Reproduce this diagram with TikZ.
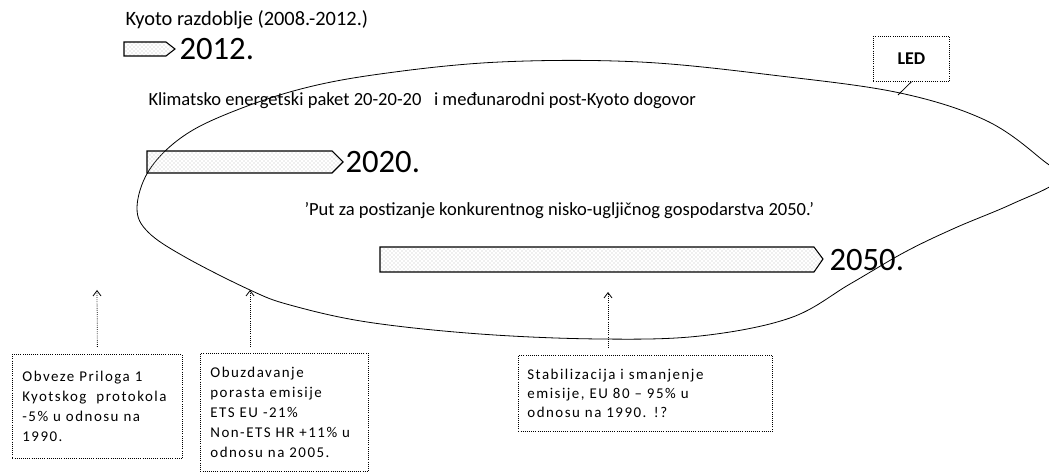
\documentclass[tikz,border=0pt]{standalone}
\usepackage{fontspec}
\setmainfont{Carlito}
\newfontfamily\boxfont[LetterSpace=10]{Carlito}
\usetikzlibrary{patterns,positioning,arrows.meta}

\tikzset{every picture/.style={line width=0.75pt}}
\tikzset{
	headtext/.style={anchor=west, inner sep=0.75pt, font=\fontsize{13.9}{16}\selectfont},
	yeartext/.style={anchor=west, inner sep=0.75pt, font=\fontsize{24.5}{26}\selectfont},
	notebox/.style={draw, densely dotted, line width=0.6pt, anchor=north west, align=left, inner xsep=7.5pt, inner ysep=3pt, font=\boxfont\fontsize{11.2}{15}\selectfont},
	barfill/.style={draw, line width=0.8pt, pattern=crosshatch dots, pattern color=gray!55},
	uparrow/.style={-{Straight Barb[length=4pt,width=6pt]}, densely dotted, line width=0.6pt},
}

\begin{document}
\begin{tikzpicture}[x=0.75pt,y=0.75pt,yscale=-1,xscale=1]
	\useasboundingbox (0,0) rectangle (1049,473);
	
	%Shape: Ellipse (freehand) [id:led] 
	\draw [line width=0.6pt] plot [smooth cycle, tension=0.6] coordinates {(137,208) (148,172) (178,140) (222,116) (297,90) (380,74) (500,62) (640,62) (780,76) (900,93) (985,120) (1040,158) (1058,180) (1012,204) (955,228) (905,252) (850,284) (790,318) (700,336) (600,339) (480,334) (367,322) (290,305) (250,290) (185,257) (148,232)};
	
	%Shape: Pentagon Arrow [id:bar2012] 
	\draw [barfill] (124,42) -- (166,42) -- (175,49) -- (166,56) -- (124,56) -- cycle ;
	%Shape: Pentagon Arrow [id:bar2020] 
	\draw [barfill] (147,151) -- (332,151) -- (343,162) -- (332,173) -- (147,173) -- cycle ;
	%Shape: Pentagon Arrow [id:bar2050] 
	\draw [barfill] (380,247) -- (814,247) -- (823,259) -- (814,272) -- (380,272) -- cycle ;
	
	% Text Node
	\node (kyoto) at (124,20) [headtext, font=\fontsize{15.3}{17}\selectfont] {Kyoto razdoblje (2008.-2012.)};
	% Text Node
	\node (y2012) at (178,49) [yeartext] {2012.};
	% Text Node
	\node (paket) at (147,101) [headtext] {Klimatsko energetski paket 20-20-20 \ \ i međunarodni post-Kyoto dogovor};
	% Text Node
	\node (y2020) at (344,162) [yeartext] {2020.};
	% Text Node
	\node (put) at (303,211) [headtext] {'Put za postizanje konkurentnog nisko-ugljičnog gospodarstva 2050.'};
	% Text Node
	\node (y2050) at (828,260) [yeartext] {2050.};
	
	% Text Node
	\node (led) at (873,36) [draw, densely dotted, line width=0.6pt, anchor=north west, minimum width=76*0.75pt, minimum height=45*0.75pt, inner sep=0.75pt, font=\bfseries\fontsize{13.5}{16}\selectfont] {LED};
	\coordinate (ledpt) at (898,95);
	\draw [line width=0.6pt] (led.south) -- (ledpt);
	
	% Text Node
	\node (obveze) at (12,354) [notebox, text width=150*0.75pt, minimum height=104*0.75pt] {Obveze Priloga 1\\Kyotskog~~protokola\\-5\%~u~odnosu~na\\1990.};
	% Text Node
	\node (obuzd) at (200,353) [notebox, text width=148*0.75pt, minimum height=118*0.75pt] {Obuzdavanje\\porasta~emisije\\ETS~EU~-21\%\\Non-ETS~HR~+11\%~u\\odnosu~na~2005.};
	% Text Node
	\node (stab) at (518,355) [notebox, text width=236*0.75pt, inner xsep=6.75pt, minimum height=76*0.75pt, font=\boxfont\fontsize{11.2}{14}\selectfont] {Stabilizacija i smanjenje\\emisije, EU 80 – 95\% u\\odnosu na 1990. !?};
	
	%Straight Lines [id:arrows] 
	\coordinate (tipA) at (97,290);
	\coordinate (tipB) at (250,290);
	\coordinate (tipC) at (608,292);
	\draw [uparrow] (obveze.north) ++(0,-7) -- (tipA);
	\draw [uparrow] (tipB |- obuzd.north) ++(0,-6) -- (tipB);
	\draw [uparrow] (tipC |- stab.north) ++(0,-7) -- (tipC);
	
\end{tikzpicture}
\end{document}
